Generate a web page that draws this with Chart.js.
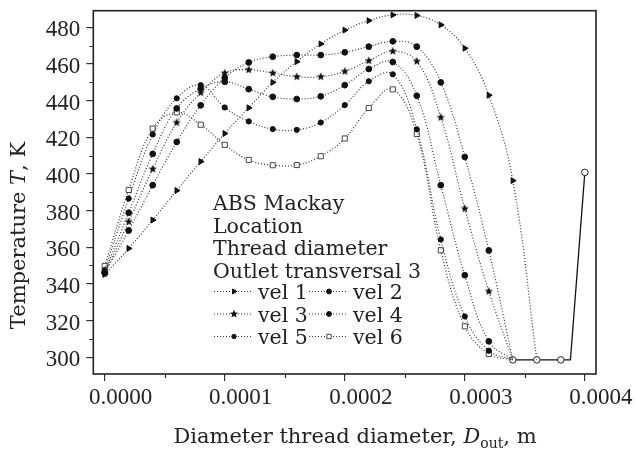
<!DOCTYPE html>
<html>
<head>
<meta charset="utf-8">
<script src="https://cdn.jsdelivr.net/npm/chart.js@4"></script>
<style>
  body { margin: 0; background: #fff; }
  #wrap { width: 636px; height: 450px; position: relative; }
</style>
</head>
<body>
<div id="wrap"><canvas id="chart"></canvas></div>
<script>
// --- data ---
const xValues = [0, 0.00002, 0.00004, 0.00006, 0.00008, 0.0001, 0.00012, 0.00014, 0.00016,
                 0.00018, 0.0002, 0.00022, 0.00024, 0.00026, 0.00028, 0.0003, 0.00032, 0.00034, 0.00036];

const vel1 = [345.2, 359.3, 374.8, 390.9, 406.7, 422.0, 436.0, 449.9, 461.2, 470.9, 478.4, 483.6, 486.7, 486.4, 481.3, 468.5, 442.9, 396.3, 298.5];
const vel2 = [346.0, 369.1, 393.8, 417.4, 437.4, 452.3, 460.8, 463.9, 464.8, 464.8, 466.3, 469.4, 472.3, 469.4, 449.9, 409.2, 358.2, 298.5];
const vel3 = [345.5, 373.9, 402.6, 428.0, 444.3, 455.0, 456.8, 455.0, 453.0, 453.0, 455.9, 461.7, 466.9, 461.4, 430.8, 381.0, 335.9, 298.5];
const vel4 = [346.5, 378.8, 410.9, 435.7, 446.5, 450.2, 446.2, 442.0, 440.8, 442.3, 448.4, 457.2, 461.0, 442.6, 393.8, 344.7, 308.6, 298.5];
const vel5 = [347.5, 386.5, 421.5, 441.2, 448.4, 436.2, 428.6, 424.4, 424.0, 428.0, 437.5, 450.5, 454.3, 424.3, 364.2, 322.2, 303.5, 298.5];
const vel6 = [349.8, 391.2, 424.7, 433.5, 426.8, 415.8, 407.6, 404.7, 404.8, 409.6, 419.3, 435.9, 446.1, 421.7, 358.3, 316.8, 301.7, 298.5];

// common tail (open circles, solid line)
const tailX = [0.00034, 0.00036, 0.00038, 0.000388, 0.0004];
const tailY = [298.5, 298.5, 298.5, 298.5, 400.8];

const seriesNames = ['vel 1', 'vel 2', 'vel 3', 'vel 4', 'vel 5', 'vel 6'];
const legendHeader = ['ABS Mackay', 'Location', 'Thread diameter', 'Outlet transversal 3'];

const xTicks = [0, 0.0001, 0.0002, 0.0003, 0.0004];
const xTickLabels = ['0.0000', '0.0001', '0.0002', '0.0003', '0.0004'];
const xMinorTicks = [0.00005, 0.00015, 0.00025, 0.00035];
const yTicks = [300, 320, 340, 360, 380, 400, 420, 440, 460, 480];
const yMinorTicks = [310, 330, 350, 370, 390, 410, 430, 450, 470];

// --- styles ---
const INK = '#222';
const TEXT_FONT = '"DejaVu Serif", serif';
const TICK_FONT = '"Liberation Serif", serif';

function makeStar() {
    const c = document.createElement('canvas');
    c.width = 10; c.height = 10;
    const g = c.getContext('2d');
    g.fillStyle = '#111';
    g.beginPath();
    for (let i = 0; i < 10; i++) {
        const r = i % 2 === 0 ? 4.4 : 1.9;
        const a = -Math.PI / 2 + i * Math.PI / 5;
        g.lineTo(5 + r * Math.cos(a), 5 + r * Math.sin(a));
    }
    g.closePath();
    g.fill();
    return c;
}

const markers = [
    { pointStyle: 'triangle', rotation: 90, radius: 3.4, fill: '#111', border: '#111', bw: 1 },
    { pointStyle: 'circle', rotation: 0, radius: 2.9, fill: '#111', border: '#111', bw: 1 },
    { pointStyle: makeStar(), rotation: 0, radius: 4, fill: '#111', border: '#111', bw: 0 },
    { pointStyle: 'circle', rotation: 0, radius: 2.9, fill: '#111', border: '#111', bw: 1 },
    { pointStyle: 'circle', rotation: 0, radius: 2.6, fill: '#111', border: '#111', bw: 1 },
    { pointStyle: 'rect', rotation: 0, radius: 3.6, fill: '#fff', border: '#444', bw: 1 }
];

const velData = [vel1, vel2, vel3, vel4, vel5, vel6];

function velSeries(i) {
    const m = markers[i];
    return {
        label: seriesNames[i],
        data: velData[i].map((y, k) => ({ x: xValues[k], y: y })),
        borderColor: '#333',
        borderWidth: 1.2,
        borderDash: [1, 2],
        pointStyle: m.pointStyle,
        pointRotation: m.rotation,
        // the end point on the floor is covered by the tail's open circle
        pointRadius: ctx => (ctx.raw && ctx.raw.y < 299) ? 0 : m.radius,
        pointBackgroundColor: m.fill,
        pointBorderColor: m.border,
        pointBorderWidth: m.bw,
        tension: 0.4,
        fill: false
    };
}

const datasets = seriesNames.map((n, i) => velSeries(i));
datasets.push({
    label: 'tail',
    data: tailX.map((x, k) => ({ x: x, y: tailY[k] })),
    borderColor: '#111',
    borderWidth: 1.3,
    pointStyle: 'circle',
    pointRadius: ctx => ctx.dataIndex === 3 ? 0 : 3.3,
    pointBackgroundColor: '#fff',
    pointBorderColor: '#222',
    pointBorderWidth: 1,
    tension: 0,
    fill: false
});

// frame, minor ticks, axis titles and the legend block
const decorations = {
    id: 'decorations',
    afterDraw(chart) {
        const ctx = chart.ctx;
        const a = chart.chartArea;
        const xs = chart.scales.x, ys = chart.scales.y;
        ctx.save();

        // frame
        ctx.strokeStyle = INK;
        ctx.lineWidth = 1.6;
        ctx.strokeRect(a.left, a.top, a.right - a.left, a.bottom - a.top);

        // minor ticks
        ctx.lineWidth = 1.2;
        ctx.strokeStyle = '#333';
        ctx.beginPath();
        yMinorTicks.forEach(v => {
            const p = Math.round(ys.getPixelForValue(v)) + 0.5;
            ctx.moveTo(a.left - 4, p); ctx.lineTo(a.left, p);
        });
        xMinorTicks.forEach(v => {
            const p = Math.round(xs.getPixelForValue(v)) + 0.5;
            ctx.moveTo(p, a.bottom); ctx.lineTo(p, a.bottom + 4);
        });
        ctx.stroke();

        ctx.fillStyle = INK;
        ctx.textBaseline = 'alphabetic';

        // y title: "Temperature T, K"
        const tSize = 21;
        const partsY = [
            { t: 'Temperature ', f: tSize + 'px ' + TEXT_FONT },
            { t: 'T', f: 'italic ' + tSize + 'px ' + TEXT_FONT },
            { t: ', K', f: tSize + 'px ' + TEXT_FONT }
        ];
        let w = 0;
        partsY.forEach(p => { ctx.font = p.f; p.w = ctx.measureText(p.t).width; w += p.w; });
        ctx.save();
        ctx.translate(25, 235.5);
        ctx.rotate(-Math.PI / 2);
        let cx = -w / 2;
        partsY.forEach(p => { ctx.font = p.f; ctx.textAlign = 'left'; ctx.fillText(p.t, cx, 0); cx += p.w; });
        ctx.restore();

        // x title: "Diameter thread diameter, D_out, m"
        const partsX = [
            { t: 'Diameter thread diameter, ', f: tSize + 'px ' + TEXT_FONT, dy: 0 },
            { t: 'D', f: 'italic ' + tSize + 'px ' + TEXT_FONT, dy: 0 },
            { t: 'out', f: '14px ' + TEXT_FONT, dy: 5 },
            { t: ', m', f: tSize + 'px ' + TEXT_FONT, dy: 0 }
        ];
        w = 0;
        partsX.forEach(p => { ctx.font = p.f; p.w = ctx.measureText(p.t).width; w += p.w; });
        cx = 355 - w / 2;
        partsX.forEach(p => { ctx.font = p.f; ctx.textAlign = 'left'; ctx.fillText(p.t, cx, 443 + p.dy); cx += p.w; });

        // legend block
        const lx = 213;
        const lineH = 22.5;
        ctx.font = '20.5px ' + TEXT_FONT;
        ctx.textAlign = 'left';
        legendHeader.forEach((t, i) => ctx.fillText(t, lx, 210 + i * lineH));

        const colX = [214, 309];
        seriesNames.forEach((name, i) => {
            const row = Math.floor(i / 2), col = i % 2;
            const base = 299 + row * lineH;
            const x0 = colX[col];
            const ly = base - 7.5;
            ctx.save();
            ctx.strokeStyle = '#333';
            ctx.lineWidth = 1.2;
            ctx.setLineDash([1, 2]);
            ctx.beginPath();
            ctx.moveTo(x0, ly); ctx.lineTo(x0 + 39, ly);
            ctx.stroke();
            ctx.setLineDash([]);
            const m = markers[i];
            ctx.fillStyle = m.fill;
            ctx.strokeStyle = m.border;
            ctx.lineWidth = m.bw;
            if (Chart.helpers && Chart.helpers.drawPoint) {
                Chart.helpers.drawPoint(ctx, {
                    pointStyle: m.pointStyle, rotation: m.rotation,
                    radius: m.radius * 0.85, borderWidth: m.bw
                }, x0 + 20, ly);
            }
            ctx.restore();
            ctx.fillStyle = INK;
            ctx.font = '20.5px ' + TEXT_FONT;
            ctx.fillText(name, x0 + 44, base);
        });

        ctx.restore();
    }
};

new Chart(document.getElementById('chart'), {
    type: 'line',
    data: { datasets: datasets },
    options: {
        responsive: true,
        maintainAspectRatio: false,
        animation: false,
        layout: { padding: { top: 10.7, right: 40, left: 0, bottom: 0 } },
        plugins: {
            legend: { display: false },
            tooltip: { enabled: false }
        },
        scales: {
            x: {
                type: 'linear',
                min: -0.0000095,
                max: 0.0004093,
                afterBuildTicks: scale => { scale.ticks = xTicks.map(v => ({ value: v })); },
                afterFit: scale => {
                    scale.height = 76;
                    scale.paddingLeft = 0; scale.paddingRight = 0;
                },
                border: { display: false },
                grid: { drawOnChartArea: false, drawTicks: true, tickLength: 7, color: '#333', lineWidth: 1.2 },
                ticks: {
                    autoSkip: false,
                    maxRotation: 0,
                    labelOffset: 16,
                    padding: 3,
                    color: INK,
                    font: { family: TICK_FONT, size: 23 },
                    callback: (value, index) => xTickLabels[index]
                }
            },
            y: {
                min: 290.8,
                max: 489,
                afterBuildTicks: scale => { scale.ticks = yTicks.map(v => ({ value: v })); },
                afterFit: scale => {
                    scale.width = 93.3;
                    scale.paddingTop = 0; scale.paddingBottom = 0;
                },
                border: { display: false },
                grid: { drawOnChartArea: false, drawTicks: true, tickLength: 7, color: '#333', lineWidth: 1.2 },
                ticks: {
                    autoSkip: false,
                    labelOffset: 3,
                    padding: 6,
                    color: INK,
                    font: { family: TICK_FONT, size: 23 },
                    callback: value => String(value)
                }
            }
        }
    },
    plugins: [decorations]
});
</script>
</body>
</html>
